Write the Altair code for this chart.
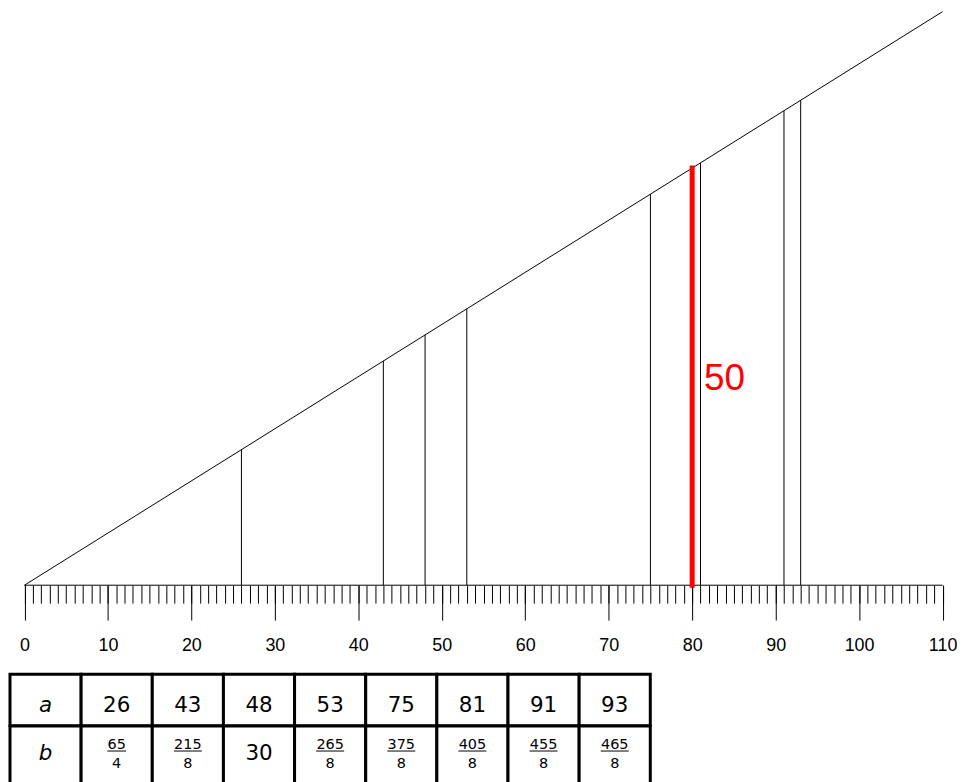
import altair as alt
import pandas as pd

# ---- data ----
a_vals = [26, 43, 48, 53, 75, 81, 91, 93]
b_num = [65, 215, 30, 265, 375, 405, 455, 465]
b_den = [4, 8, 1, 8, 8, 8, 8, 8]
highlight_a = [80]
highlight_b = [50]
slope_x = [0, 110]
slope_y = [0, 68.75]
major_ticks = [0, 10, 20, 30, 40, 50, 60, 70, 80, 90, 100, 110]
minor_ticks = list(range(0, 111))
row_labels = ["a", "b"]

# ---- layout ----
X_MIN = -1.73
W_MAIN = 936.5
H_MAIN = 576
W_TABLE = 643
H_ROW1 = 51.5
H_ROW2 = 62
FONT_AX = "Liberation Sans"
FONT_TB = "DejaVu Sans"

x_scale = alt.Scale(domain=[X_MIN, 110], nice=False, zero=False)
y_scale = alt.Scale(domain=[0, 68.75], nice=False, zero=False)

minor_axis = alt.Axis(orient="bottom", values=minor_ticks, tickSize=18, tickColor="black",
                      tickWidth=1, labels=False, domain=False, grid=False, title=None)
major_axis = alt.Axis(orient="bottom", values=major_ticks, tickSize=35, tickColor="black",
                      tickWidth=1, labels=True, labelFont=FONT_AX, labelFontSize=18,
                      labelColor="black", labelPadding=17, labelFlush=False,
                      labelOverlap=False, labelBound=False, domain=False, grid=False,
                      title=None)

slope_df = pd.DataFrame({"x": slope_x, "y": slope_y})
seg_df = pd.DataFrame({"x": a_vals, "num": b_num, "den": b_den})
hl_df = pd.DataFrame({"x": highlight_a, "b": highlight_b})
base_df = pd.DataFrame({"x": [slope_x[0]], "x2": [slope_x[1]], "y": [slope_y[0]]})

slope_line = alt.Chart(slope_df).mark_line(color="black", strokeWidth=1).encode(
    x=alt.X("x:Q", scale=x_scale, axis=minor_axis),
    y=alt.Y("y:Q", scale=y_scale, axis=None),
)

baseline = alt.Chart(base_df).mark_rule(color="black", strokeWidth=1).encode(
    x=alt.X("x:Q", scale=x_scale, axis=major_axis),
    x2="x2:Q",
    y=alt.Y("y:Q", scale=y_scale, axis=None),
)

verticals = alt.Chart(seg_df).transform_calculate(
    b="datum.num / datum.den", y0="0"
).mark_rule(color="black", strokeWidth=1).encode(
    x=alt.X("x:Q", scale=x_scale, axis=None),
    y=alt.Y("y0:Q", scale=y_scale, axis=None),
    y2="b:Q",
)

red_rule = alt.Chart(hl_df).transform_calculate(y0="0").mark_rule(
    color="red", strokeWidth=5, strokeCap="square"
).encode(
    x=alt.X("x:Q", scale=x_scale, axis=None),
    y=alt.Y("y0:Q", scale=y_scale, axis=None),
    y2="b:Q",
)

red_text = alt.Chart(hl_df).transform_calculate(mid="datum.b / 2").mark_text(
    color="red", fontSize=37, font=FONT_AX, align="left", baseline="middle", dx=12, dy=2
).encode(
    x=alt.X("x:Q", scale=x_scale, axis=None),
    y=alt.Y("mid:Q", scale=y_scale, axis=None),
    text=alt.Text("b:Q"),
)

main = alt.layer(slope_line, baseline, verticals, red_rule, red_text).resolve_axis(
    x="independent"
).properties(width=W_MAIN, height=H_MAIN)

# ---- table ----
col_x = alt.X("col:O", sort=None, scale=alt.Scale(paddingInner=0, paddingOuter=0), axis=None)

row1_df = pd.DataFrame({
    "col": list(range(len(a_vals) + 1)),
    "txt": [row_labels[0]] + [str(v) for v in a_vals],
    "hdr": [1] + [0] * len(a_vals),
})
row2_df = pd.DataFrame({
    "col": list(range(len(a_vals) + 1)),
    "txt": [row_labels[1]] + [str(n) for n in b_num],
    "num": [""] + [str(n) for n in b_num],
    "den": [0] + b_den,
    "hdr": [1] + [0] * len(a_vals),
})

def cells(df):
    return alt.Chart(df).mark_rect(fill="white", stroke="black", strokeWidth=3).encode(x=col_x)

r1_hdr = alt.Chart(row1_df).transform_filter("datum.hdr == 1").mark_text(
    font=FONT_TB, fontSize=21.5, fontStyle="italic", color="black", baseline="middle", dy=6
).encode(x=col_x, text="txt:N")
r1_val = alt.Chart(row1_df).transform_filter("datum.hdr == 0").mark_text(
    font=FONT_TB, fontSize=21.5, color="black", baseline="middle", dy=6
).encode(x=col_x, text="txt:N")
row1 = alt.layer(cells(row1_df), r1_hdr, r1_val).properties(width=W_TABLE, height=H_ROW1)

r2_hdr = alt.Chart(row2_df).transform_filter("datum.hdr == 1").mark_text(
    font=FONT_TB, fontSize=21.5, fontStyle="italic", color="black", baseline="middle", dy=-3
).encode(x=col_x, text="txt:N")
r2_whole = alt.Chart(row2_df).transform_filter("datum.hdr == 0 && datum.den == 1").mark_text(
    font=FONT_TB, fontSize=21.5, color="black", baseline="middle", dy=-3
).encode(x=col_x, text="txt:N")
r2_num = alt.Chart(row2_df).transform_filter("datum.hdr == 0 && datum.den != 1").mark_text(
    font=FONT_TB, fontSize=14.5, color="black", baseline="middle", dy=-12.5
).encode(x=col_x, text="num:N")
r2_den = alt.Chart(row2_df).transform_filter("datum.hdr == 0 && datum.den != 1").mark_text(
    font=FONT_TB, fontSize=14.5, color="black", baseline="middle", dy=7
).encode(x=col_x, text="den:N")
r2_bar = alt.Chart(row2_df).transform_filter("datum.hdr == 0 && datum.den != 1").transform_calculate(
    barlen="length(datum.num) * 9.2 + 0.5"
).mark_tick(orient="horizontal", color="black", thickness=1, yOffset=-6, opacity=1).encode(
    x=col_x, size=alt.Size("barlen:Q", scale=None, legend=None)
)
row2 = alt.layer(cells(row2_df), r2_hdr, r2_whole, r2_num, r2_den, r2_bar).properties(
    width=W_TABLE, height=H_ROW2
)

table = alt.vconcat(row1, row2, spacing=0, bounds="flush")

chart = alt.vconcat(main, table, spacing=89.5, bounds="flush", padding=0,
                    background="white").configure_view(stroke=None)

chart.save("out.html", embed_options={"renderer": "svg", "actions": False})
